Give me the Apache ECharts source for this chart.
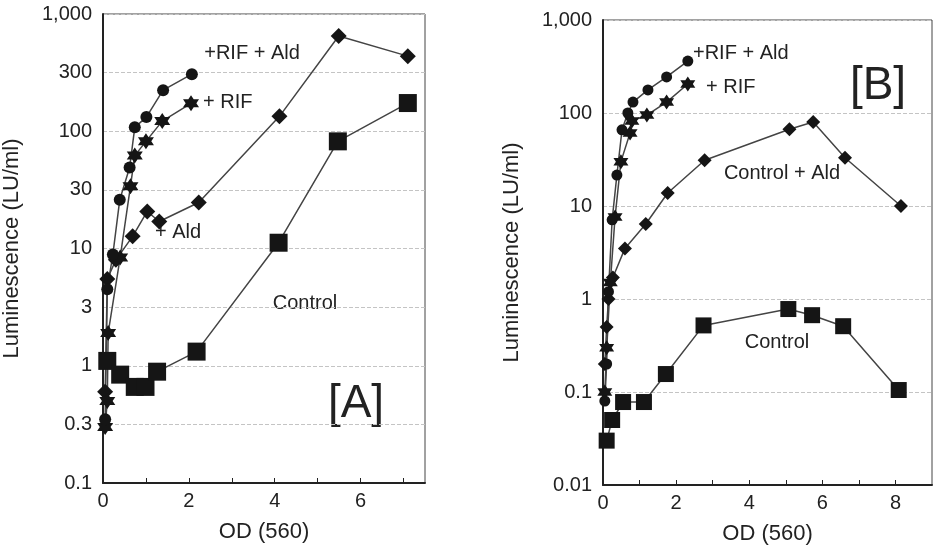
<!DOCTYPE html>
<html>
<head>
<meta charset="utf-8">
<script src="https://cdn.jsdelivr.net/npm/echarts@6/dist/echarts.min.js"></script>
<style>html,body{margin:0;padding:0;background:#fff}#chart{width:934px;height:551px}</style>
</head>
<body>
<div id="chart"></div>
<script>
// panel [A] : [OD(560), LU/ml]
var aControl = [[0.1,1.1],[0.4,0.84],[0.74,0.66],[0.99,0.66],[1.26,0.89],[2.18,1.32],[4.09,11.2],[5.47,82],[7.1,174]];
var aAld = [[0.05,0.6],[0.1,5.5],[0.3,8],[0.69,12.7],[1.03,20.7],[1.31,17],[2.23,24.7],[4.11,134],[5.49,650],[7.1,437]];
var aRif = [[0.05,0.3],[0.1,0.5],[0.12,1.9],[0.4,8.4],[0.64,34],[0.74,62],[1.0,82],[1.38,122],[2.05,173]];
var aRifAld = [[0.05,0.35],[0.1,4.5],[0.23,8.9],[0.39,26],[0.62,49],[0.74,108],[1.01,132],[1.4,224],[2.07,307]];

// panel [B]
var bControl = [[0.1,0.03],[0.25,0.05],[0.55,0.078],[1.12,0.078],[1.72,0.156],[2.75,0.52],[5.07,0.78],[5.72,0.67],[6.57,0.51],[8.09,0.105]];
var bAld = [[0.05,0.2],[0.1,0.5],[0.15,1.0],[0.27,1.7],[0.6,3.5],[1.17,6.4],[1.77,13.8],[2.78,31],[5.1,67],[5.75,80],[6.62,33],[8.15,10]];
var bRif = [[0.05,0.1],[0.1,0.3],[0.2,1.5],[0.33,7.6],[0.49,30],[0.74,61],[0.79,82],[1.2,95],[1.74,131],[2.32,205]];
var bRifAld = [[0.05,0.08],[0.1,0.2],[0.15,1.2],[0.25,7.1],[0.38,21.5],[0.52,66],[0.68,100],[0.82,131],[1.23,177],[1.74,244],[2.32,362]];

var yLabelsA = ['0.1','0.3','1','3','10','30','100','300','1,000'];
var yLabelsB = ['0.01','0.1','1','10','100','1,000'];
var xLabels = ['0','2','4','6','8'];

var chart = echarts.init(document.getElementById('chart'));
var font = 'Liberation Sans, Arial, sans-serif';
var star = 'path://M0,-10 L2.9,-5 L8.66,-5 L5.8,0 L8.66,5 L2.9,5 L0,10 L-2.9,5 L-8.66,5 L-5.8,0 L-8.66,-5 L-2.9,-5 Z';

function xAxis(idx, max){
	return {
		type: 'value', gridIndex: idx, min: 0, max: max, interval: 1,
		name: 'OD (560)', nameLocation: 'middle', nameGap: 38,
		nameTextStyle: {fontSize: 22, color: '#222', fontFamily: font},
		axisLine: {show: true, lineStyle: {color: '#222', width: 2}},
		axisTick: {show: true, inside: true, length: 5, lineStyle: {color: '#222'}},
		axisLabel: {fontSize: 20, color: '#222', fontFamily: font, margin: 8, showMaxLabel: false,
			formatter: function(v){ return (v % 2 === 0) ? xLabels[v / 2] : ''; }},
		splitLine: {show: false}
	};
}

function yAxis(idx, base, min, labels, offs){
	return {
		type: 'log', gridIndex: idx, logBase: base, min: min, max: 1000,
		name: 'Luminescence (LU/ml)', nameLocation: 'middle', nameGap: offs,
		nameTextStyle: {fontSize: 22, color: '#222', fontFamily: font},
		axisLine: {show: true, lineStyle: {color: '#222', width: 2}},
		axisTick: {show: false},
		axisLabel: {fontSize: 20, color: '#222', fontFamily: font, margin: 11,
			formatter: function(v){
				var i = Math.round(Math.log(v / min) / Math.log(base));
				return labels[i] || '';
			}},
		splitLine: {show: true, lineStyle: {color: '#c4c4c4', type: 'dashed', width: 1}}
	};
}

function line(name, data, xi, symbol, size){
	return {
		name: name, type: 'line', xAxisIndex: xi, yAxisIndex: xi, data: data,
		symbol: symbol, symbolSize: size, showAllSymbol: true,
		lineStyle: {color: '#444', width: 1.5},
		itemStyle: {color: '#151515'}
	};
}

function label(text, x, y, size, align, weight){
	return {type: 'text', x: x, y: y, style: {text: text, fill: '#222', font: (weight || 'normal') + ' ' + size + 'px ' + font, textAlign: align || 'left', textVerticalAlign: 'middle'}};
}

var option = {
	animation: false,
	backgroundColor: '#fff',
	grid: [
		{left: 100, top: 14, width: 325, height: 469, show: true, borderColor: '#444', borderWidth: 1},
		{left: 603, top: 20, width: 329, height: 465, show: true, borderColor: '#444', borderWidth: 1}
	],
	xAxis: [xAxis(0, 7.5), xAxis(1, 9)],
	yAxis: [yAxis(0, Math.sqrt(10), 0.1, yLabelsA, 80), yAxis(1, 10, 0.01, yLabelsB, 80)],
	series: [
		line('Control', aControl, 0, 'rect', 18),
		line('+ Ald', aAld, 0, 'diamond', 16),
		line('+ RIF', aRif, 0, star, 16),
		line('+RIF + Ald', aRifAld, 0, 'circle', 12),
		line('Control', bControl, 1, 'rect', 16),
		line('Control + Ald', bAld, 1, 'diamond', 14),
		line('+ RIF', bRif, 1, star, 15),
		line('+RIF + Ald', bRifAld, 1, 'circle', 11)
	],
	graphic: [
		label('+RIF + Ald', 252, 53, 20, 'center'),
		label('+ RIF', 203, 102, 20),
		label('+ Ald', 155, 232, 20),
		label('Control', 305, 303, 20, 'center'),
		label('[A]', 356, 404, 46, 'center', 300),
		label('+RIF + Ald', 693, 53, 20),
		label('+ RIF', 706, 87, 20),
		label('[B]', 878, 86, 46, 'center', 300),
		label('Control + Ald', 782, 173, 20, 'center'),
		label('Control', 777, 342, 20, 'center')
	]
};
chart.setOption(option);
</script>
</body>
</html>
